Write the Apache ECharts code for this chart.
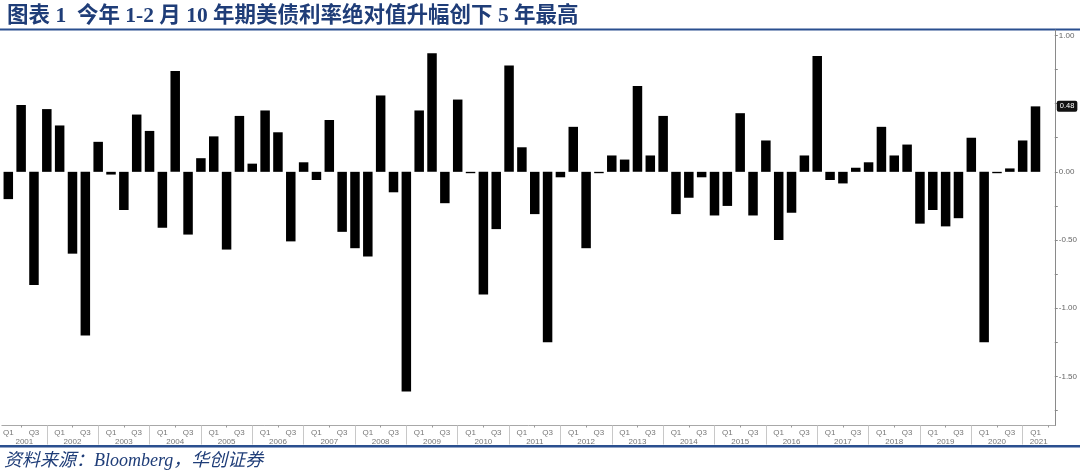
<!DOCTYPE html>
<html><head><meta charset="utf-8">
<script src="https://cdn.jsdelivr.net/npm/echarts@6/dist/echarts.min.js"></script>
<style>html,body{margin:0;padding:0;background:#fff}#c{width:1080px;height:475px}</style>
</head><body><div id="c"></div>
<script>
// ---- data ----
const years = [2001,2002,2003,2004,2005,2006,2007,2008,2009,2010,2011,2012,2013,2014,2015,2016,2017,2018,2019,2020,2021];
const quarterNames = ['Q1','Q2','Q3','Q4'];
// quarterly change of 10Y UST yield (pct pts), 2001Q1 .. 2021Q1
const values = [
  -0.20, 0.49, -0.83, 0.46,   // 2001
   0.34,-0.60, -1.20, 0.22,   // 2002
  -0.02,-0.28,  0.42, 0.30,   // 2003
  -0.41, 0.74, -0.46, 0.10,   // 2004
   0.26,-0.57,  0.41, 0.06,   // 2005
   0.45, 0.29, -0.51, 0.07,   // 2006
  -0.06, 0.38, -0.44,-0.56,   // 2007
  -0.62, 0.56, -0.15,-1.61,   // 2008
   0.45, 0.87, -0.23, 0.53,   // 2009
  -0.01,-0.90, -0.42, 0.78,   // 2010
   0.18,-0.31, -1.25,-0.04,   // 2011
   0.33,-0.56, -0.01, 0.12,   // 2012
   0.09, 0.63,  0.12, 0.41,   // 2013
  -0.31,-0.19, -0.04,-0.32,   // 2014
  -0.25, 0.43, -0.32, 0.23,   // 2015
  -0.50,-0.30,  0.12, 0.85,   // 2016
  -0.06,-0.085, 0.03, 0.07,   // 2017
   0.33, 0.12,  0.20,-0.38,   // 2018
  -0.28,-0.40, -0.34, 0.25,   // 2019
  -1.25,-0.01,  0.025,0.23,   // 2020
   0.48                       // 2021
];
const yLabelValues = [-1.5, -1.0, -0.5, 0, 1.0];
const yTickValues = [-1.75,-1.5,-1.25,-1.0,-0.75,-0.5,-0.25,0,0.25,0.5,0.75,1.0];
const titleText = '图表 1  今年 1-2 月 10 年期美债利率绝对值升幅创下 5 年最高';
const sourceText = '资料来源：Bloomberg，华创证券';

// ---- build ----
const categories = [];
years.forEach(y => quarterNames.forEach(q => categories.push(q)));
categories.length = 82; // 2001Q1 .. 2021Q2
const nCat = categories.length;
const sepValues = [];      // year separators (at Q4 of each year)
for (let k = 0; k < years.length - 1; k++) sepValues.push(4 * k + 3);
const bounds = [-0.5].concat(sepValues, [nCat - 0.5]);
const yearCenters = [];
for (let k = 0; k < years.length; k++) yearCenters.push((bounds[k] + bounds[k + 1]) / 2);
const yearOf = v => years[Math.min(years.length - 1, Math.floor((v + 1) / 4))];
const last = values[values.length - 1];

const navy = '#1f3d78';
const chart = echarts.init(document.getElementById('c'));
chart.setOption({
  animation: false,
  backgroundColor: '#fff',
  title: {
    text: titleText, left: 2, top: 1,
    textStyle: { fontFamily: "'Liberation Serif','Noto Sans CJK SC'", fontWeight: 'bold', fontSize: 21.5, color: navy }
  },
  graphic: [
    { type: 'rect', shape: { x: 0, y: 28.5, width: 1080, height: 2 }, style: { fill: '#2a4f8f' }, silent: true },
    { type: 'rect', shape: { x: 0, y: 445, width: 1080, height: 2.5 }, style: { fill: '#2a4f8f' }, silent: true },
    { type: 'text', left: 4, top: 452, silent: true,
      style: { text: sourceText, fill: navy, font: "italic 18px 'Liberation Serif','Noto Sans CJK SC'" } }
  ],
  grid: { left: -2.5, right: 23, top: 30, bottom: 49.5, containLabel: false },
  xAxis: [
    {
      type: 'category', data: categories, position: 'bottom', boundaryGap: true,
      axisLine: { show: true, onZero: false, lineStyle: { color: '#a8a8a8', width: 1 } },
      axisTick: { show: true, alignWithLabel: true, interval: (i) => i % 4 === 1, length: 2, inside: false, lineStyle: { color: '#999' } },
      axisLabel: { interval: (i) => i % 2 === 0, fontSize: 8, color: '#777', margin: 3, fontFamily: "'Liberation Sans'" },
      splitLine: { show: false }
    },
    {
      type: 'value', min: -0.5, max: nCat - 0.5, position: 'bottom',
      axisLine: { show: false, onZero: false },
      axisTick: { show: true, customValues: sepValues, length: 19, lineStyle: { color: '#c8c8c8' } },
      axisLabel: { show: true, customValues: yearCenters, formatter: v => String(yearOf(v)), fontSize: 8, color: '#777', margin: 12, fontFamily: "'Liberation Sans'" },
      splitLine: { show: false }
    }
  ],
  yAxis: {
    type: 'value', position: 'right', min: -1.86, max: 1.04,
    axisLine: { show: true, onZero: false, lineStyle: { color: '#8a8a8a', width: 1 } },
    axisTick: { show: true, customValues: yTickValues, length: 3, lineStyle: { color: '#888' } },
    axisLabel: { show: true, customValues: yLabelValues, formatter: v => v.toFixed(2), fontSize: 8, color: '#666', margin: 4, fontFamily: "'Liberation Sans'" },
    splitLine: { show: false }
  },
  series: [{
    type: 'bar', xAxisIndex: 0, data: values, barWidth: 9.5,
    itemStyle: { color: '#000' },
    markLine: {
      silent: true, symbol: 'none',
      lineStyle: { color: 'rgba(0,0,0,0)', width: 0 },
      data: [{ yAxis: last }],
      label: { show: true, position: 'end', distance: 2, formatter: v => Number(v.value).toFixed(2),
        backgroundColor: '#111', color: '#fff', fontSize: 7.5, padding: [2, 3, 1, 3], borderRadius: 2, fontFamily: "'Liberation Sans'" }
    }
  }]
});
</script>
</body></html>
